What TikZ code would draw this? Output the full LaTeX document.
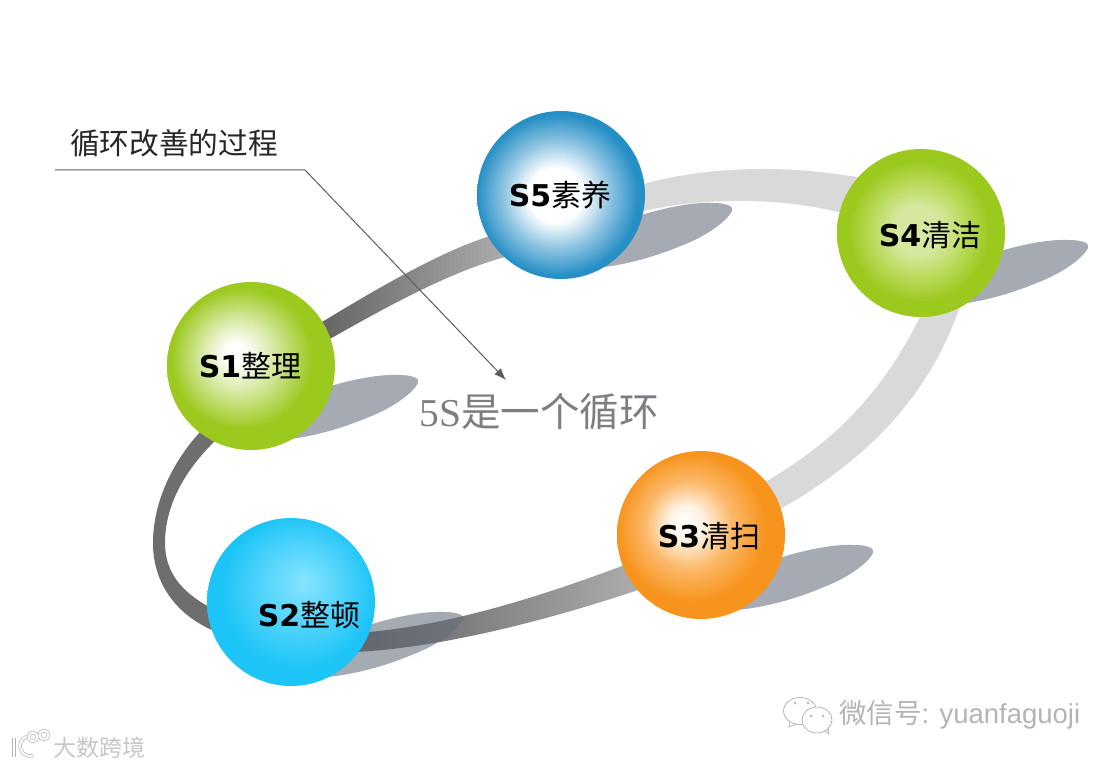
\documentclass[tikz,border=0pt]{standalone}
\usepackage{fontspec}
\setmainfont{DejaVu Sans}
\newfontfamily\cjk{Noto Sans CJK SC}
\newfontfamily\serifnum{Liberation Serif}
\newfontfamily\wmfont{Liberation Sans}
\usetikzlibrary{arrows,arrows.meta}

\definecolor{bandDark}{HTML}{6E6E6E}
\definecolor{bandLight}{HTML}{D9D9D9}
\definecolor{blobGray}{HTML}{666C7A}
\definecolor{leadGray}{HTML}{5C5C5C}
\definecolor{bigGray}{HTML}{7C7E84}
\definecolor{wmGray}{HTML}{B4B4B4}
\definecolor{wmPale}{HTML}{C6C6C6}
\definecolor{greenEdge}{HTML}{9BC91E}
\definecolor{greenMid}{HTML}{D6E8A0}
\definecolor{greenMidB}{HTML}{BEDC64}
\definecolor{blueEdge}{HTML}{268FC5}
\definecolor{blueMid}{HTML}{8CC3E1}
\definecolor{orangeEdge}{HTML}{F7941D}
\definecolor{orangeMid}{HTML}{FBB868}
\definecolor{orangeCore}{HTML}{FEF4E6}
\definecolor{cyanEdge}{HTML}{1CC4F7}
\definecolor{cyanMid}{HTML}{5AD6FC}
\definecolor{cyanCore}{HTML}{87E4FF}

\pgfdeclareradialshading{ballgreenone}{\pgfpoint{-5bp}{4bp}}{color(0bp)=(white); color(3bp)=(white); color(11bp)=(greenMid); color(21bp)=(greenEdge); color(50bp)=(greenEdge)}
\pgfdeclareradialshading{ballgreenfour}{\pgfpoint{-1bp}{1bp}}{color(0bp)=(greenMid); color(7bp)=(greenMid); color(13bp)=(greenMidB); color(21bp)=(greenEdge); color(50bp)=(greenEdge)}
\pgfdeclareradialshading{ballblue}{\pgfpoint{-2bp}{0bp}}{color(0bp)=(white); color(8bp)=(white); color(16bp)=(blueMid); color(24bp)=(blueEdge); color(50bp)=(blueEdge)}
\pgfdeclareradialshading{ballorange}{\pgfpoint{-5bp}{4bp}}{color(0bp)=(white); color(5bp)=(orangeCore); color(13bp)=(orangeMid); color(22bp)=(orangeEdge); color(50bp)=(orangeEdge)}
\pgfdeclareradialshading{ballcyan}{\pgfpoint{4bp}{6bp}}{color(0bp)=(cyanCore); color(10bp)=(cyanMid); color(23bp)=(cyanEdge); color(50bp)=(cyanEdge)}

\tikzset{
  ball/.style={circle,minimum size=168pt,inner sep=0pt,outer sep=0pt},
  balltext/.style={inner sep=0pt,font=\fontsize{30}{30}\selectfont},
  shadowblob/.style={fill=blobGray,opacity=0.58},
  leader/.style={draw=leadGray,line width=1pt},
  wmline/.style={draw=wmGray,line width=0.8pt},
  wmstroke/.style={draw=wmGray,line width=0.7pt,double=white,double distance=2pt},
}

\begin{document}
\begin{tikzpicture}[x=1pt,y=-1pt]
\useasboundingbox (0,0) rectangle (1117,767);

% band
\fill[bandDark] (200,432) .. controls (170,465) and (153,505) .. (153,543)
  .. controls (153,585) and (178,615) .. (212,630) -- (215,610)
  .. controls (185,595) and (165,575) .. (165,543)
  .. controls (165,505) and (185,470) .. (216,440) -- cycle;
\shade[left color=black!62,right color=black!32] (355,652)
  .. controls (440,648) and (550,620) .. (644,588) -- (630,563)
  .. controls (540,597) and (450,625) .. (368,632) -- cycle;
\fill[bandLight] (760,485) .. controls (830,445) and (885,395) .. (928,300)
  -- (962,300) .. controls (930,400) and (860,465) .. (775,512) -- cycle;
\fill[bandLight] (640,185)
  .. controls (710,165) and (790,165) .. (862,178) -- (842,213)
  .. controls (780,197) and (700,197) .. (640,212) -- cycle;
\shade[left color=black!60,right color=black!33] (322,322)
  .. controls (375,290) and (439,252) .. (490,236) -- (505,257)
  .. controls (450,272) and (390,305) .. (328,340) -- cycle;

% shadows
\foreach \bx/\by in {418/380,463/617,732/208,873/550,1088/245}{
  \fill[shadowblob,shift={(\bx,\by)}] (-138,58) -- (-100,10)
    .. controls (-70,0) and (-40,-6) .. (-19,-5)
    .. controls (-6,-5) and (2,-2) .. (0,3)
    .. controls (-6,15) and (-30,30) .. (-49,37)
    .. controls (-75,48) and (-105,57) .. (-136,60) -- cycle;
}

% balls
\node[ball,shading=ballgreenone] (sone) at (251,366) {};
\node[ball,shading=ballcyan] (stwo) at (291,602) {};
\node[ball,shading=ballorange] (sthree) at (701,535) {};
\node[ball,shading=ballgreenfour] (sfour) at (921,233) {};
\node[ball,shading=ballblue] (sfive) at (561,195) {};

\node[balltext] (sonetext) at (250,366) {\textbf{S1}{\cjk 整理}};
\node[balltext] (stwotext) at (309,615) {\textbf{S2}{\cjk 整顿}};
\node[balltext] (sthreetext) at (709,536) {\textbf{S3}{\cjk 清扫}};
\node[balltext] (sfourtext) at (930,235) {\textbf{S4}{\cjk 清洁}};
\node[balltext] (sfivetext) at (560,195) {\textbf{S5}{\cjk 素养}};

% callout
\node[inner sep=0pt,font=\fontsize{29.7}{30}\selectfont\cjk,text=black!85] (process) at (174,143) {循环改善的过程};
\node[inner sep=0pt,font=\fontsize{39.5}{40}\selectfont\cjk,text=bigGray] (cycle) at (539,412) {{\serifnum 5S}是一个循环};
\coordinate (leadstart) at (55,170);
\coordinate (leadbend) at (305,170);
\coordinate (leadtip) at (506,380);
\draw[leader,-{Latex[length=12pt,width=9pt]}] (leadstart) -- (leadbend) -- (leadtip);

% watermarks
\node[inner sep=0pt,font=\fontsize{23}{23}\selectfont\cjk,text=wmPale] (dashu) at (99,748) {大数跨境};
\node[inner sep=0pt,font=\fontsize{27.5}{28}\selectfont,text=wmGray,anchor=west] (wechat) at (839,715) {{\cjk 微信号}{\wmfont : yuanfaguoji}};
\draw[wmstroke] (14,738) -- (14,757);
\draw[wmstroke] (26.6,736.6) arc (-110:-290:10);
\draw[wmstroke] (33,737) circle (4.5) (44,735) circle (4.5);
% chat bubbles
\draw[wmline,fill=white] (800,711) ellipse [x radius=16.5,y radius=13.5];
\draw[wmline] (790,722) -- (789,727) -- (797,724);
\draw[wmline,fill=white] (817,720) ellipse [x radius=15,y radius=13];
\draw[wmline] (825,731) -- (829,734) -- (828,727);
\foreach \ex/\ey in {795/703,808/703,811/716,823/716}{
  \fill[wmGray] (\ex,\ey) circle (1.3);
}
\end{tikzpicture}
\end{document}
